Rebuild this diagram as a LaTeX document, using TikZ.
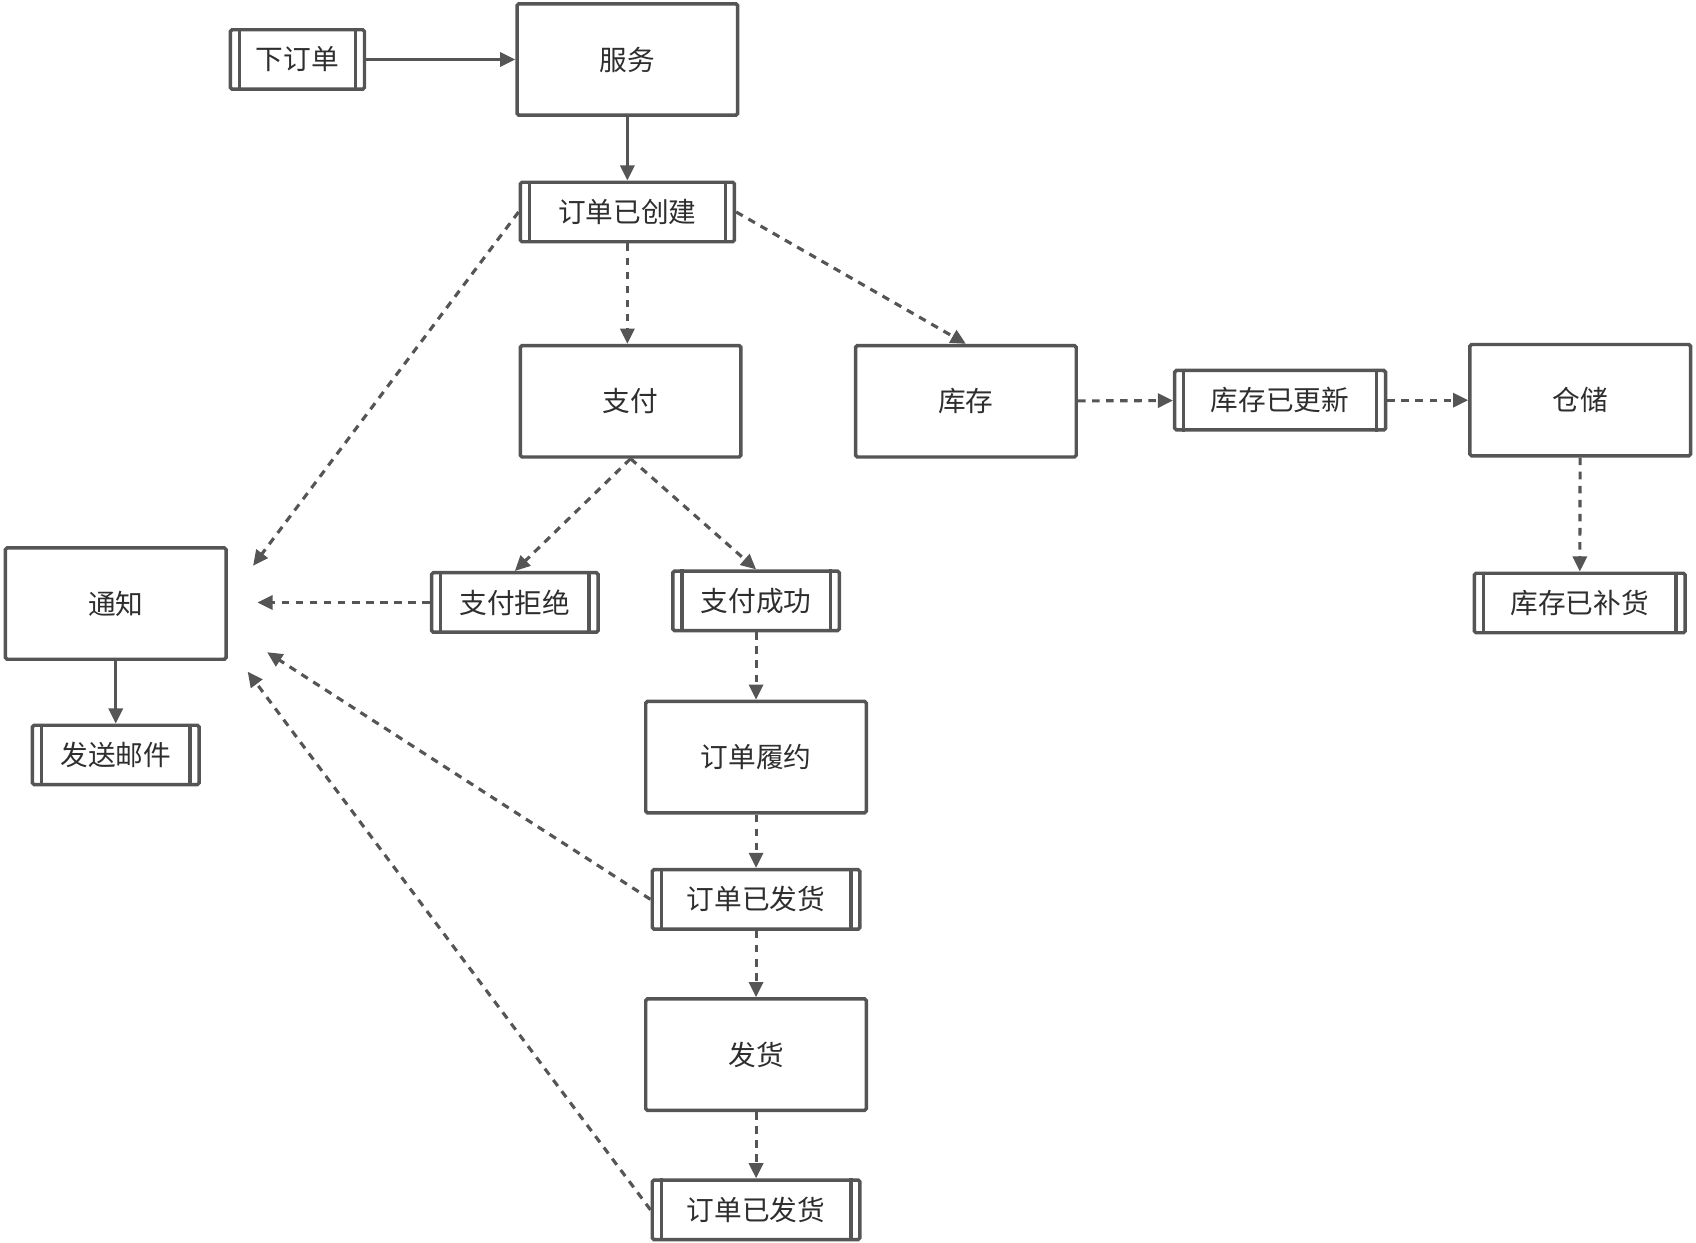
\documentclass[tikz,border=0pt]{standalone}
\usepackage{fontspec}
\setmainfont{Noto Sans CJK SC}
\usetikzlibrary{arrows.meta}
\definecolor{trait}{HTML}{555555}
\definecolor{texte}{HTML}{2E2E2E}

\tikzset{
	boite/.style={draw=trait,line width=1.6pt,rounded corners=0.8pt,fill=white,text=texte,minimum width=102pt,minimum height=51.5pt,inner sep=0pt,font=\fontsize{12.8}{15}\selectfont},
	evt/.style={boite,minimum height=27.5pt},
	fl/.style={draw=trait,line width=1.45pt,-{Triangle[length=7pt,width=6.5pt]}},
	pt/.style={fl,dash pattern=on 3.5pt off 3pt}
}

\begin{document}
\begin{tikzpicture}[x=0.5pt,y=-0.5pt]
				\useasboundingbox (0,0) rectangle (1568,1149);
				% Boites
				\node [boite] (srv) at (580,55) {服务};
				\node [boite] (zf) at (583,371) {支付};
				\node [boite] (kc) at (893,371) {库存};
				\node [boite] (cc) at (1461,370) {仓储};
				\node [boite] (tz) at (107,558) {通知};
				\node [boite] (ly) at (699,700) {订单履约};
				\node [boite] (fh) at (699,975) {发货};
				% Evenements
				\node [evt,minimum width=62pt] (xd) at (275,55) {下订单};
				\node [evt,minimum width=99pt] (cj) at (580,196) {订单已创建};
				\node [evt,minimum width=97.5pt] (gx) at (1183.5,370) {库存已更新};
				\node [evt,minimum width=97.5pt] (bh) at (1460.5,557.5) {库存已补货};
				\node [evt,minimum width=77pt] (yj) at (107,698) {发送邮件};
				\node [evt,minimum width=77pt] (jj) at (476,557) {支付拒绝};
				\node [evt,minimum width=77pt] (cg) at (699,555.5) {支付成功};
				\node [evt,minimum width=96pt] (fa) at (699,831.5) {订单已发货};
				\node [evt,minimum width=96pt] (fb) at (699,1118.5) {订单已发货};
				\foreach \n in {xd,cj,gx,bh,yj,jj,cg,fa,fb}
					{\draw [trait,line width=1.6pt] ([xshift=5pt]\n.north west) -- ([xshift=5pt]\n.south west);
					 \draw [trait,line width=1.6pt] ([xshift=-5pt]\n.north east) -- ([xshift=-5pt]\n.south east);}
				% Bouts libres vers通知
				\coordinate (n1) at (234,523);
				\coordinate (n2) at (238,557);
				\coordinate (n3) at (247,603);
				\coordinate (n4) at (229,621);
				% Fleches pleines
				\draw [fl] (xd) -- (srv);
				\draw [fl] (srv) -- (cj);
				\draw [fl] (tz) -- (yj);
				% Fleches pointillees
				\draw [pt] (cj) -- (cj |- zf.north);
				\draw [pt] (cj.east) -- (kc.north);
				\draw [pt] (cj.west) -- (n1);
				\draw [pt] (zf.south) -- (jj.north);
				\draw [pt] (zf.south) -- (cg.north);
				\draw [pt] (jj) -- (n2);
				\draw [pt] (cg) -- (ly);
				\draw [pt] (ly) -- (fa);
				\draw [pt] (fa.west) -- (n3);
				\draw [pt] (fa) -- (fh);
				\draw [pt] (fh) -- (fb);
				\draw [pt] (fb.west) -- (n4);
				\draw [pt] (kc) -- (gx);
				\draw [pt] (gx) -- (cc);
				\draw [pt] (cc) -- (bh);
\end{tikzpicture}
\end{document}
